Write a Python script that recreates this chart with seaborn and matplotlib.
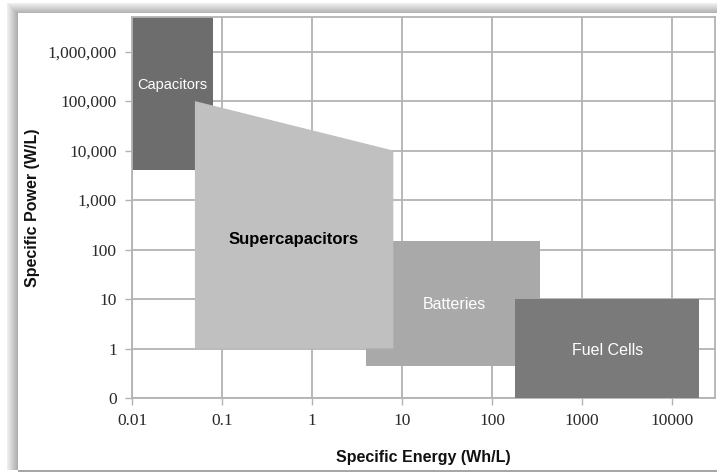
import matplotlib
matplotlib.use("Agg")
import matplotlib.pyplot as plt
from matplotlib.patches import Rectangle
from matplotlib.ticker import FixedLocator, FixedFormatter, NullLocator
import seaborn as sns

# regions of the Ragone plot: (energy Wh/L, power W/L) polygon corners
CAP_E = [0.01, 0.08, 0.08, 0.01]
CAP_P = [4000, 4000, 1e7, 1e7]
BAT_E = [4, 340, 340, 4]
BAT_P = [0.45, 0.45, 150, 150]
SUP_E = [0.05, 8, 8, 0.05]
SUP_P = [1, 1, 1e4, 1e5]
FUEL_E = [180, 20000, 20000, 180]
FUEL_P = [0.1, 0.1, 10, 10]

X_TICKS = [0.01, 0.1, 1, 10, 100, 1000, 10000]
X_LABELS = ["0.01", "0.1", "1", "10", "100", "1000", "10000"]
Y_TICKS = [0.1, 1, 10, 100, 1e3, 1e4, 1e5, 1e6]
Y_LABELS = ["0", "1", "10", "100", "1,000", "10,000", "100,000", "1,000,000"]

sns.set_theme(style="white")
plt.rcParams["font.family"] = ["Liberation Sans", "DejaVu Sans"]

W, H = 717, 473
fig = plt.figure(figsize=(W / 100, H / 100), dpi=100, facecolor="white")


def px_rect(x0, y0, x1, y1, color, z=-2):
    # rectangle in pixel units (origin top-left)
    fig.patches.append(Rectangle((x0 / W, 1 - y1 / H), (x1 - x0) / W, (y1 - y0) / H,
                                 transform=fig.transFigure, facecolor=color,
                                 edgecolor="none", zorder=z))


# soft shadow around the white card (left and top), grey rule at the bottom
n = 11
for i in range(n):
    g = 0.96 - 0.28 * (i + 1) / n
    px_rect(7 + i, 3 + i, 8 + i, 470, (g, g, g), z=-3)
    px_rect(7 + i, 3 + i, W, 4 + i, (g, g, g), z=-3)
px_rect(18, 13, W, 470, "white", z=-2)
px_rect(18, 470, W, 472, "#a6a6a6", z=-2)

ax = fig.add_axes([132 / W, 1 - 398 / H, (715 - 132) / W, (398 - 17) / H])
ax.set_xscale("log")
ax.set_yscale("log")
ax.set_xlim(0.01, 30000)
ax.set_ylim(0.1, 5e6)

grid_c = "#b3b3b3"
ax.xaxis.set_major_locator(FixedLocator(X_TICKS))
ax.xaxis.set_major_formatter(FixedFormatter(X_LABELS))
ax.yaxis.set_major_locator(FixedLocator(Y_TICKS))
ax.yaxis.set_major_formatter(FixedFormatter(Y_LABELS))
ax.xaxis.set_minor_locator(NullLocator())
ax.yaxis.set_minor_locator(NullLocator())
ax.grid(True, color=grid_c, linewidth=1.3, zorder=0)
ax.set_axisbelow(True)
for s in ax.spines.values():
    s.set_color(grid_c)
    s.set_linewidth(1.3)
ax.tick_params(axis="both", which="major", length=5, width=1.0, color=grid_c,
               direction="out", left=True, bottom=True, labelsize=12.5,
               labelcolor="#2a2a2a", pad=6)
for lab in ax.get_xticklabels() + ax.get_yticklabels():
    lab.set_family("Liberation Serif")

ax.fill(CAP_E, CAP_P, color="#6d6d6d", lw=0, zorder=2)
ax.fill(BAT_E, BAT_P, color="#a9a9a9", lw=0, zorder=3)
ax.fill(SUP_E, SUP_P, color="#c0c0c0", lw=0, zorder=4)
ax.fill(FUEL_E, FUEL_P, color="#7a7a7a", lw=0, zorder=5)

ax.text(0.028, 2.1e5, "Capacitors", color="white", fontsize=10.5,
        ha="center", va="center", zorder=6)
ax.text(0.63, 158, "Supercapacitors", color="black", fontsize=12,
        fontweight="bold", ha="center", va="center", zorder=6)
ax.text(38, 7.6, "Batteries", color="white", fontsize=11.5,
        ha="center", va="center", zorder=6)
ax.text(1900, 0.93, "Fuel Cells", color="white", fontsize=11.5,
        ha="center", va="center", zorder=6)

ax.set_xlabel("Specific Energy (Wh/L)", fontsize=11.5, fontweight="bold",
              color="#111111", labelpad=15)
ax.set_ylabel("Specific Power (W/L)", fontsize=11.5, fontweight="bold",
              color="#111111", labelpad=5.5)

fig.savefig("out.png", dpi=100, facecolor=fig.get_facecolor())
